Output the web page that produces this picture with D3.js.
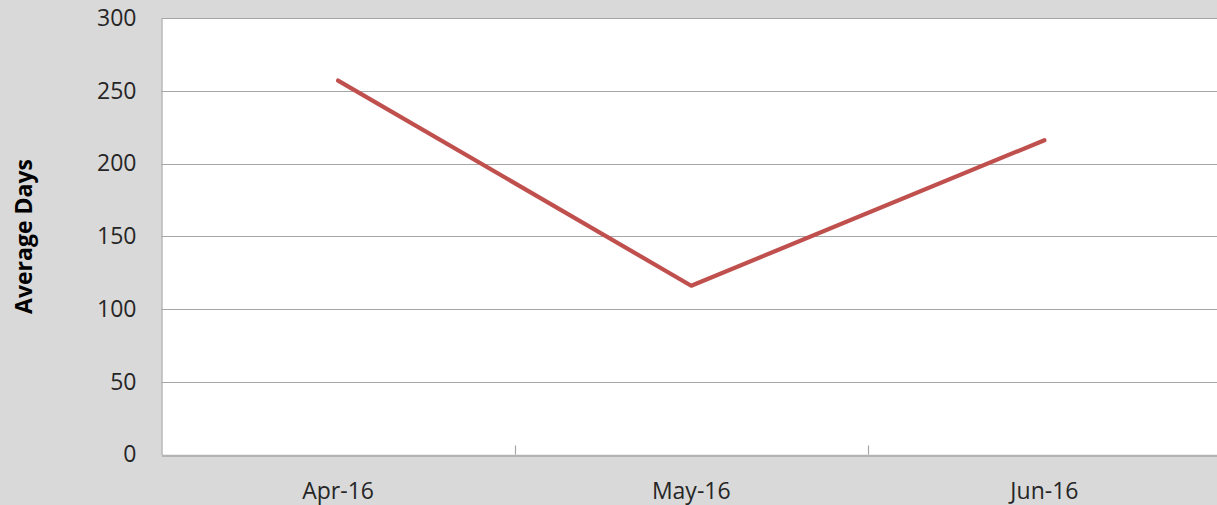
<!DOCTYPE html>
<html>
<head>
<meta charset="utf-8">
<script src="https://cdn.jsdelivr.net/npm/d3@7"></script>
<style>
  html, body { margin: 0; padding: 0; background: #d9d9d9; overflow: hidden; }
  svg { display: block; }
</style>
</head>
<body>
<svg id="chart" width="1217" height="505"></svg>
<script>
const categories = ["Apr-16", "May-16", "Jun-16"];
const values = [257, 116, 216];
const yTicks = [0, 50, 100, 150, 200, 250, 300];
const yTitle = "Average Days";

const W = 1217, H = 505;
const margin = { left: 161.5, right: -4, top: 18, bottom: 50.5 };
const svg = d3.select("#chart");
svg.append("rect").attr("width", W).attr("height", H).attr("fill", "#d9d9d9");

const x0 = margin.left, x1 = W - margin.right;
const y0 = H - margin.bottom, y1 = margin.top;

const x = d3.scaleBand().domain(categories).range([x0, x1]).padding(0);
const y = d3.scaleLinear().domain([0, 300]).range([y0, y1]);

// plot area
svg.append("rect").attr("x", x0).attr("y", y1).attr("width", x1 - x0).attr("height", y0 - y1).attr("fill", "#ffffff");

// gridlines
svg.append("g").selectAll("line").data(yTicks.filter(d => d > 0)).join("line")
  .attr("x1", x0).attr("x2", x1)
  .attr("y1", d => Math.round(y(d)) + 0.5).attr("y2", d => Math.round(y(d)) + 0.5)
  .attr("stroke", "#a6a6a6").attr("stroke-width", 1.2);

// y axis
const yAxis = d3.axisLeft(y).tickValues(yTicks).tickSize(0).tickPadding(25);
const gy = svg.append("g").attr("transform", `translate(${x0},0)`).call(yAxis);
gy.select(".domain").attr("stroke", "#a6a6a6").attr("stroke-width", 1.2);
gy.selectAll("text").attr("font-family", "'Open Sans', sans-serif").attr("font-size", 23).attr("fill", "#262626");

// x axis
const xAxis = d3.axisBottom(x).tickSize(0).tickPadding(0);
const gx = svg.append("g").attr("transform", `translate(0,${Math.round(y0) + 0.5})`).call(xAxis);
gx.select(".domain").attr("stroke", "#a6a6a6").attr("stroke-width", 1.4);
gx.selectAll("text").attr("font-family", "'Open Sans', sans-serif").attr("font-size", 23).attr("fill", "#262626")
  .attr("dy", null).attr("y", 43.5);

// x category separators (ticks pointing inward)
const bounds = categories.slice(1).map(c => x(c));
svg.append("g").selectAll("line").data(bounds).join("line")
  .attr("x1", d => Math.round(d) + 0.5).attr("x2", d => Math.round(d) + 0.5)
  .attr("y1", y0).attr("y2", y0 - 9)
  .attr("stroke", "#a6a6a6").attr("stroke-width", 1.2);

// line
const line = d3.line().x((d, i) => x(categories[i]) + x.bandwidth() / 2).y(d => y(d));
svg.append("path").datum(values).attr("d", line)
  .attr("fill", "none").attr("stroke", "#c0504d").attr("stroke-width", 4.2)
  .attr("stroke-linecap", "round").attr("stroke-linejoin", "round");

// y title
svg.append("text").attr("transform", `translate(32,236.5) rotate(-90)`)
  .attr("text-anchor", "middle")
  .attr("font-family", "'Open Sans', sans-serif").attr("font-weight", "bold").attr("font-size", 23)
  .attr("fill", "#000").text(yTitle);
</script>
</body>
</html>
